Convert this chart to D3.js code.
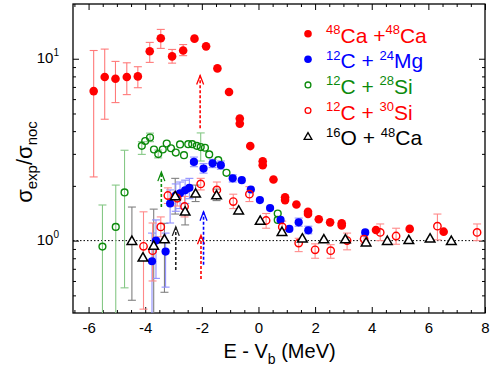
<!DOCTYPE html>
<html>
<head>
<meta charset="utf-8">
<script src="https://cdn.jsdelivr.net/npm/d3@7"></script>
<style>
  body { margin: 0; background: #fff; }
  svg { display: block; font-family: "Liberation Sans", Arial, Helvetica, sans-serif; }
</style>
</head>
<body>
<svg id="chart" width="490" height="370"></svg>
<script>
// each point: [E - Vb, ratio, low, high]  (low/high null = no error bar)
const caCa = [
  [-5.82, 6.64, 2.24, 11.1], [-5.43, 7.93, 4.65, 11.3], [-5.05, 7.77, 5.74, 9.67],
  [-4.65, 7.93, 6.35, 9.5], [-4.26, 8.0, 6.93, 9.04], [-3.84, 11.0, 9.55, 12.3],
  [-3.45, 12.97, 11.4, 14.5], [-3.05, 10.3, 9.46, 11.25], [-2.66, 11.1, 10.4, 11.97],
  [-2.26, 12.9, null, null], [-1.85, 11.7, null, null], [-1.45, 8.85, null, null],
  [-1.04, 6.56, null, null], [-0.66, 4.69, null, null], [-0.66, 4.4, null, null],
  [-0.29, 3.31, null, null], [0.15, 2.73, null, null], [0.15, 2.6, null, null],
  [0.53, 2.17, null, null], [0.94, 1.73, null, null], [0.94, 1.67, null, null],
  [1.34, 1.58, null, null], [1.75, 1.44, null, null], [1.75, 1.40, null, null],
  [2.13, 1.31, null, null], [2.53, 1.26, null, null], [2.94, 1.245, null, null],
  [2.94, 1.21, null, null], [4.15, 1.145, null, null], [5.34, 1.16, null, null],
  [6.54, 1.12, null, null]
];

const cMg = [
  [-3.76, 0.77, 0.35, 1.1], [-3.62, 1.0, 0.62, 1.3], [-3.28, 0.87, 0.555, 1.1],
  [-3.12, 1.60, 1.25, 1.9], [-2.92, 1.77, 1.45, 2.05], [-2.77, 1.82, 1.5, 2.1],
  [-2.59, 1.89, 1.6, 2.15], [-2.44, 1.95, 1.7, 2.2], [-2.28, 2.71, 2.55, 2.88],
  [-1.94, 2.49, 2.35, 2.65], [-1.62, 2.66, 2.52, 2.8], [-1.33, 2.60, 2.47, 2.74],
  [-0.91, 2.20, 2.1, 2.3], [-0.59, 2.15, null, null], [-0.27, 1.91, null, null],
  [0.05, 1.67, null, null], [0.41, 1.51, null, null], [0.78, 1.30, null, null],
  [1.09, 1.16, null, null], [1.42, 1.26, 1.2, 1.33], [1.76, 1.14, 1.09, 1.2],
  [3.77, 1.11, null, null]
];

const cSi28 = [
  [-5.51, 0.927, 0.3, 1.57], [-5.04, 1.19, 0.3, 2.02], [-4.73, 1.84, 0.55, 3.14],
  [-4.12, 3.32, 2.98, 3.5], [-4.0, 3.53, null, null], [-3.83, 3.69, 3.5, 3.9],
  [-3.69, 3.17, null, null], [-3.54, 2.99, 2.85, 3.15], [-3.38, 3.17, null, null],
  [-3.24, 3.42, null, null], [-3.09, 3.22, null, null], [-2.92, 3.05, null, null],
  [-2.77, 3.38, null, null], [-2.63, 2.95, null, null], [-2.48, 3.39, null, null],
  [-2.34, 3.39, null, null], [-2.18, 3.32, null, null], [-2.04, 3.27, 2.74, 3.91],
  [-1.89, 3.24, null, null], [-1.74, 2.98, null, null], [-1.42, 2.77, null, null],
  [-1.13, 2.36, null, null], [0.68, 1.41, null, null], [0.68, 1.30, null, null]
];

const cSi30 = [
  [-4.06, 0.93, 0.42, 1.44], [-3.74, 0.88, 0.6, 1.25], [-3.45, 1.19, 1.05, 1.35],
  [-3.2, 1.77, 1.6, 1.95], [-2.87, 1.71, 1.55, 1.85], [-2.61, 1.54, 1.35, 1.75],
  [-2.04, 2.05, 1.9, 2.2], [-1.47, 1.90, 1.72, 2.1], [-0.89, 1.64, 1.5, 1.8],
  [-0.32, 1.80, 1.64, 1.98], [0.27, 1.29, 1.17, 1.41], [0.84, 1.19, 1.1, 1.28],
  [1.42, 0.97, 0.87, 1.03], [2.0, 0.89, 0.8, 0.96], [2.55, 0.88, 0.8, 0.95],
  [3.13, 1.0, 0.89, 1.1], [3.73, 1.02, 0.96, 1.06], [4.3, 1.11, 1.0, 1.235],
  [4.86, 1.06, 0.955, 1.17], [6.32, 1.20, 1.01, 1.40], [7.72, 1.11, 1.0, 1.235]
];

const oCa = [
  [-4.47, 1.0, 0.47, 1.53], [-4.08, 0.81, null, null], [-3.70, 0.94, 0.3, 1.49],
  [-3.32, 1.02, 0.52, 1.245], [-2.94, 1.76, 1.4, 2.2], [-2.59, 1.45, 1.22, 1.6],
  [-2.22, 1.82, 1.64, 2.02], [-1.48, 1.78, 1.66, 1.92], [-0.70, 1.47, null, null],
  [0.06, 1.29, null, null], [0.83, 1.12, null, null], [1.55, 1.03, null, null],
  [2.31, 1.02, null, null], [3.07, 1.02, null, null], [3.80, 0.98, null, null],
  [4.55, 1.0, null, null], [5.31, 1.01, null, null], [6.06, 1.03, null, null],
  [6.81, 1.0, null, null]
];

// upper-limit arrows: [E - Vb, bottom, tip]
const arrowsRed = [[-2.06, 4.15, 8.09], [-2.03, 0.616, 1.07]];
const arrowsGreen = [[-3.43, 1.53, 2.38]];
const arrowsBlue = [[-1.94, 0.736, 1.44]];
const arrowsBlack = [[-2.92, 0.69, 1.19]];

const legendSup1 = ["48", "12", "12", "12", "16"];
const legendBase1 = ["Ca +", "C + ", "C + ", "C + ", "O + "];
const legendSup2 = ["48", "24", "28", "30", "48"];
const legendBase2 = ["Ca", "Mg", "Si", "Si", "Ca"];

const xMajor = [-6, -4, -2, 0, 2, 4, 6, 8];
const yMajor = [1, 10];

const RED = "#ff0000", BLUE = "#0000ff", GREEN = "#0b8a0b", BLACK = "#000";

const svg = d3.select("#chart");
const W = 490, H = 370;
const m = {left: 73, right: 5, top: 4, bottom: 57};

const x = d3.scaleLinear().domain([-6.55, 8]).range([m.left, W - m.right]);
const y = d3.scaleLog().domain([0.4, 20]).range([H - m.bottom, m.top]);

// minor ticks
const xMinor = d3.range(-6.5, 8.01, 0.5).filter(v => !xMajor.includes(v));
const yMinor = [0.5, 0.6, 0.7, 0.8, 0.9, 2, 3, 4, 5, 6, 7, 8, 9];

function axisStyle(g) {
  g.select(".domain").remove();
  g.selectAll("line").attr("stroke", "#000").attr("stroke-width", 1);
}

svg.append("g").attr("transform", `translate(0,${H - m.bottom})`)
  .call(d3.axisBottom(x).tickValues(xMinor).tickSize(-3).tickFormat(""))
  .call(axisStyle);
svg.append("g").attr("transform", `translate(0,${m.top})`)
  .call(d3.axisTop(x).tickValues(xMinor).tickSize(-3).tickFormat(""))
  .call(axisStyle);
svg.append("g").attr("transform", `translate(0,${m.top})`)
  .call(d3.axisTop(x).tickValues(xMajor).tickSize(-6).tickFormat(""))
  .call(axisStyle);
const gx = svg.append("g").attr("transform", `translate(0,${H - m.bottom})`)
  .call(d3.axisBottom(x).tickValues(xMajor).tickSize(-6).tickPadding(9).tickFormat(d3.format("d")))
  .call(axisStyle);
gx.selectAll("text").attr("font-size", 15).attr("fill", "#000")
  .attr("font-family", "'Liberation Sans', Arial, sans-serif")
  .text(d => d < 0 ? "-" + Math.abs(d) : d);

svg.append("g").attr("transform", `translate(${m.left},0)`)
  .call(d3.axisLeft(y).tickValues(yMinor).tickSize(-3).tickFormat(""))
  .call(axisStyle);
svg.append("g").attr("transform", `translate(${W - m.right},0)`)
  .call(d3.axisRight(y).tickValues(yMinor).tickSize(-3).tickFormat(""))
  .call(axisStyle);
svg.append("g").attr("transform", `translate(${W - m.right},0)`)
  .call(d3.axisRight(y).tickValues(yMajor).tickSize(-6).tickFormat(""))
  .call(axisStyle);
const gy = svg.append("g").attr("transform", `translate(${m.left},0)`)
  .call(d3.axisLeft(y).tickValues(yMajor).tickSize(-6).tickPadding(14).tickFormat(""))
  .call(axisStyle);
gy.selectAll(".tick text").each(function(d) {
  const t = d3.select(this).attr("font-size", 15).attr("fill", "#000")
    .attr("font-family", "'Liberation Sans', Arial, sans-serif").attr("dy", "0.25em");
  t.append("tspan").text("10");
  t.append("tspan").attr("font-size", 10).attr("dy", -7).text(Math.round(Math.log10(d)));
});

// frame
svg.append("rect")
  .attr("x", m.left).attr("y", m.top)
  .attr("width", W - m.right - m.left).attr("height", H - m.bottom - m.top)
  .attr("fill", "none").attr("stroke", "#000").attr("stroke-width", 1.3);

const plot = svg.append("g");
const clipId = "plotclip";
svg.append("clipPath").attr("id", clipId).append("rect")
  .attr("x", m.left).attr("y", m.top)
  .attr("width", W - m.right - m.left).attr("height", H - m.bottom - m.top);
plot.attr("clip-path", `url(#${clipId})`);

// reference line at 1
plot.append("line")
  .attr("x1", x(-6.55)).attr("x2", x(8)).attr("y1", y(1)).attr("y2", y(1))
  .attr("stroke", "#000").attr("stroke-width", 1).attr("stroke-dasharray", "1.5,2");

function errorBars(data, color) {
  const g = plot.append("g").attr("stroke", color).attr("stroke-width", 1.1);
  const d = data.filter(p => p[2] !== null);
  g.selectAll("line.v").data(d).join("line").attr("class", "v")
    .attr("x1", p => x(p[0])).attr("x2", p => x(p[0]))
    .attr("y1", p => y(p[2])).attr("y2", p => y(p[3]));
  g.selectAll("line.lo").data(d).join("line").attr("class", "lo")
    .attr("x1", p => x(p[0]) - 4).attr("x2", p => x(p[0]) + 4)
    .attr("y1", p => y(p[2])).attr("y2", p => y(p[2]));
  g.selectAll("line.hi").data(d).join("line").attr("class", "hi")
    .attr("x1", p => x(p[0]) - 4).attr("x2", p => x(p[0]) + 4)
    .attr("y1", p => y(p[3])).attr("y2", p => y(p[3]));
}

errorBars(cSi28, "#86c886");
errorBars(oCa, "#808080");
errorBars(cMg, "#8f8fff");
errorBars(cSi30, "#ff8a8a");
errorBars(caCa, "#ff7a7a");

function arrows(data, color) {
  const g = plot.append("g").attr("stroke", color).attr("fill", "none").attr("stroke-width", 1.6);
  g.selectAll("line").data(data).join("line")
    .attr("x1", p => x(p[0])).attr("x2", p => x(p[0]))
    .attr("y1", p => y(p[1])).attr("y2", p => y(p[2]))
    .attr("stroke-dasharray", "3,2");
  g.selectAll("path").data(data).join("path")
    .attr("stroke-width", 1.3)
    .attr("d", p => {
      const cx = x(p[0]), cy = y(p[2]);
      return `M${cx - 3.5},${cy + 9}L${cx},${cy}L${cx + 3.5},${cy + 9}`;
    });
}
arrows(arrowsRed, RED);
arrows(arrowsGreen, GREEN);
arrows(arrowsBlue, BLUE);
arrows(arrowsBlack, "#222");

function openCircles(data, color, r) {
  plot.append("g").selectAll("circle").data(data).join("circle")
    .attr("cx", p => x(p[0])).attr("cy", p => y(p[1])).attr("r", r)
    .attr("fill", "none").attr("stroke", color).attr("stroke-width", 1.4);
}
function filledCircles(data, color, r) {
  plot.append("g").selectAll("circle").data(data).join("circle")
    .attr("cx", p => x(p[0])).attr("cy", p => y(p[1])).attr("r", r)
    .attr("fill", color);
}
const tri = d3.symbol().type(d3.symbolTriangle).size(40);

openCircles(cSi28, GREEN, 3.4);
filledCircles(cMg, BLUE, 4.1);
openCircles(cSi30, RED, 3.7);
plot.append("g").selectAll("path").data(oCa).join("path")
  .attr("transform", p => `translate(${x(p[0])},${y(p[1]) + 1})`)
  .attr("d", tri).attr("fill", "#fff").attr("stroke", "#000").attr("stroke-width", 1.5);
filledCircles(caCa, RED, 4.3);

// legend
const legColors = [RED, BLUE, GREEN, RED, BLACK];
const legend = svg.append("g");
const rowY = i => 42.7 + i * 25.6;
legendBase1.forEach((b, i) => {
  const cy = rowY(i) - 9, cx = 308;
  if (i < 2) {
    legend.append("circle").attr("cx", cx).attr("cy", cy).attr("r", 3.8).attr("fill", legColors[i]);
  } else if (i < 4) {
    legend.append("circle").attr("cx", cx).attr("cy", cy).attr("r", 2.9)
      .attr("fill", "none").attr("stroke", legColors[i]).attr("stroke-width", 1.3);
  } else {
    legend.append("path").attr("transform", `translate(${cx},${cy + 1})`)
      .attr("d", d3.symbol().type(d3.symbolTriangle).size(26))
      .attr("fill", "none").attr("stroke", "#000").attr("stroke-width", 1.3);
  }
  const t = legend.append("text").attr("x", 326).attr("y", rowY(i))
    .attr("font-size", 21).attr("fill", legColors[i]);
  t.append("tspan").attr("font-size", 13).attr("dy", -8.5).text(legendSup1[i]);
  t.append("tspan").attr("dy", 8.5).text(b);
  t.append("tspan").attr("font-size", 13).attr("dy", -8.5).text(legendSup2[i]);
  t.append("tspan").attr("dy", 8.5).text(legendBase2[i]);
});

// axis titles
const xt = svg.append("text").attr("x", 279.5).attr("y", 358.3)
  .attr("text-anchor", "middle").attr("font-size", 20).attr("fill", "#000");
xt.append("tspan").text("E - V");
xt.append("tspan").attr("font-size", 14).attr("dy", 6).text("b");
xt.append("tspan").attr("dy", -6).text(" (MeV)");

const yt = svg.append("text")
  .attr("transform", "translate(32,162) rotate(-90)")
  .attr("text-anchor", "middle").attr("font-size", 22).attr("fill", "#000");
yt.append("tspan").text("σ");
yt.append("tspan").attr("font-size", 15).attr("dy", 5).text("exp");
yt.append("tspan").attr("dy", -5).text("/σ");
yt.append("tspan").attr("font-size", 15).attr("dy", 5).text("noc");
</script>
</body>
</html>
